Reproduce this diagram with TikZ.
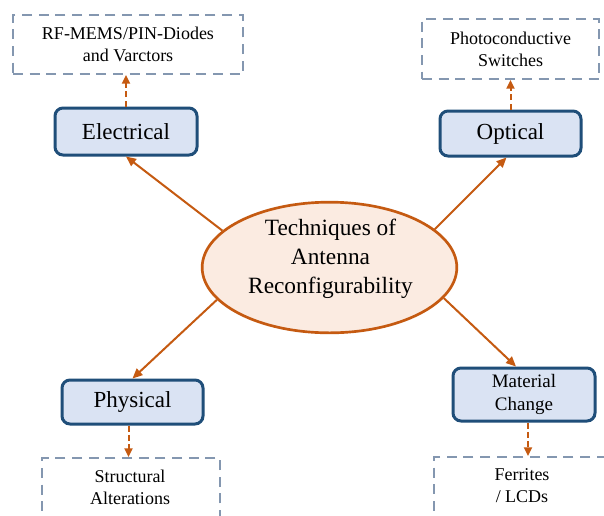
\documentclass[tikz,border=0pt]{standalone}
\usepackage{fontspec}
\setmainfont{Liberation Serif}
\usetikzlibrary{arrows.meta,shapes.geometric}
\definecolor{orng}{HTML}{C55A11}
\definecolor{ellfill}{HTML}{FBEBE1}
\definecolor{boxfill}{HTML}{DAE3F3}
\definecolor{boxline}{HTML}{1F4E79}
\definecolor{dashline}{HTML}{8497B0}
\begin{document}
\begin{tikzpicture}[x=0.75pt,y=-0.75pt,
  tech/.style={draw=boxline, line width=2.25pt, fill=boxfill, rounded corners=6pt,
    inner sep=0pt, font=\fontsize{17.25}{21}\selectfont},
  impl/.style={draw=dashline, line width=1.5pt, dash pattern=on 7.5pt off 5pt,
    inner sep=0pt, align=center, font=\fontsize{13.5}{16.5}\selectfont},
  impltext/.style={inner sep=0pt, align=center, font=\fontsize{13.5}{16.5}\selectfont},
  mainarrow/.style={draw=orng, line width=1.5pt, -{Triangle[length=7.5pt,width=6.5pt]}},
  subarrow/.style={draw=orng, line width=1.5pt, dash pattern=on 4.5pt off 2.5pt,
    -{Triangle[length=6.5pt,width=6pt]}}
]
\clip (0,0) rectangle (604,515);
\fill[white] (0,0) rectangle (604,515);

% centre ellipse
\node[ellipse, draw=orng, line width=2pt, fill=ellfill, minimum width=191pt,
  minimum height=98pt, inner sep=0pt] (ell) at (329.5,267.5) {};
\node[inner sep=0pt, align=center, font=\fontsize{17.5}{21.75}\selectfont]
  (elltxt) at (330.5,259) {Techniques of\\Antenna\\Reconfigurability};

% technique boxes
\node[tech, minimum width=106.5pt, minimum height=35.25pt] (elec) at (126,131.5) {Electrical};
\node[tech, minimum width=105.75pt, minimum height=33.75pt] (opt) at (510.5,133.5) {\raisebox{2.5pt}{Optical}};
\node[tech, minimum width=105.75pt, minimum height=33pt] (phys) at (132.5,402) {Physical};
\node[tech, minimum width=106.5pt, minimum height=39.75pt, align=center,
  font=\fontsize{14.25}{17}\selectfont] (mat) at (524,394.5) {Material\\Change};

% implementation boxes
\node[impl, minimum width=172.5pt, minimum height=44.25pt] (rf) at (128,44.5)
  {RF-MEMS/PIN-Diodes\\and Varctors};
\node[impl, minimum width=132.75pt, minimum height=45pt] (ph) at (510.5,49)
  {Photoconductive\\Switches};
\node[impl, minimum width=133.5pt, minimum height=63pt] (sbox) at (131,500) {};
\node[impltext] (stxt) at (130,487) {Structural\\Alterations};
\node[impl, minimum width=139.5pt, minimum height=63pt] (fbox) at (527,499) {};
\node[impltext] (ftxt) at (522,486) {Ferrites\\/ LCDs};

% connectors
\draw[mainarrow] (ell.161) -- (elec.south);
\draw[mainarrow] (ell.20) -- ([xshift=-3pt]opt.south);
\draw[mainarrow] (ell.196) -- (phys.north);
\draw[mainarrow] (ell.345) -- ([xshift=-6pt]mat.north);

\draw[subarrow] (elec.north) -- (elec.north |- rf.south);
\draw[subarrow] (opt.north) -- (opt.north |- ph.south);
\draw[subarrow] ([xshift=-3pt]phys.south) -- ([xshift=-3pt]phys.south |- sbox.north);
\draw[subarrow] ([xshift=3pt]mat.south) -- ([xshift=3pt]mat.south |- fbox.north);
\end{tikzpicture}
\end{document}
